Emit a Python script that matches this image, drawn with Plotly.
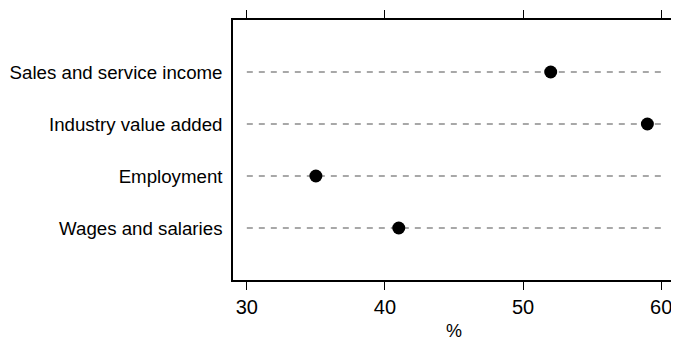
import plotly.graph_objects as go

categories = ["Sales and service income", "Industry value added", "Employment", "Wages and salaries"]
values = [52, 59, 35, 41]
x_ticks = [30, 40, 50, 60]
grid_start, grid_end = 30, 60

ypos = [4, 3, 2, 1]

fig = go.Figure()
for yp in ypos:
    fig.add_trace(go.Scatter(x=[grid_start, grid_end], y=[yp, yp], mode="lines",
                             line=dict(color="#8c8c8c", width=1.5, dash="6px,6px"),
                             hoverinfo="skip", showlegend=False))
fig.add_trace(go.Scatter(x=values, y=ypos, mode="markers",
                         marker=dict(color="black", size=13),
                         showlegend=False))

fig.update_layout(
    width=671, height=333,
    margin=dict(l=225, r=2, t=9, b=59),
    plot_bgcolor="white", paper_bgcolor="white",
    font=dict(family="Liberation Sans, Arial, sans-serif", size=18.7, color="black"),
    xaxis=dict(range=[29, 61], tickvals=x_ticks, ticks="outside", ticklen=8,
               tickcolor="black", showline=True, linecolor="black", linewidth=1.5,
               mirror="ticks", showgrid=False, zeroline=False,
               title=dict(text="%", standoff=9, font=dict(size=18)),
               tickfont=dict(size=20)),
    yaxis=dict(range=[0, 5], tickvals=ypos, ticktext=categories, ticks="",
               showline=True, linecolor="black", linewidth=1.5, mirror=True,
               showgrid=False, zeroline=False, ticklabelstandoff=5),
)
fig.write_html("out.html")
